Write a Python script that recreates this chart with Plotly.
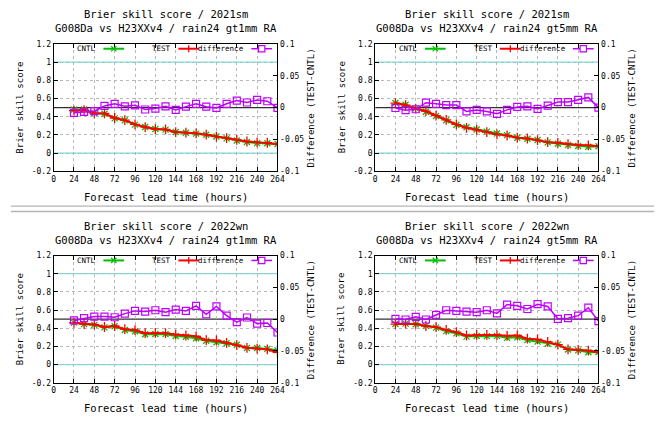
import plotly.graph_objects as go

W, H = 661, 424
FONT = "DejaVu Sans Mono"

# ---- data -------------------------------------------------------------
hours = list(range(24, 265, 12))

x_ticks = list(range(0, 265, 24))
x_tick_text = [str(v) for v in x_ticks]
bss_ticks = [-0.2, 0.0, 0.2, 0.4, 0.6, 0.8, 1.0, 1.2]
bss_tick_text = ["-0.2", "0", "0.2", "0.4", "0.6", "0.8", "1", "1.2"]
diff_ticks = [-0.1, -0.05, 0.0, 0.05, 0.1]
diff_tick_text = ["-0.1", "-0.05", "0", "0.05", "0.1"]

seasons = ["2021sm", "2021sm", "2022wn", "2022wn"]
thresholds = ["gt1mm", "gt5mm", "gt1mm", "gt5mm"]

# 2021 summer, > 1 mm
cntl_sm_1mm = [0.478, 0.480, 0.441, 0.433, 0.382, 0.361, 0.313, 0.287, 0.265, 0.258, 0.233,
               0.224, 0.214, 0.202, 0.182, 0.162, 0.138, 0.122, 0.110, 0.108, 0.100]
test_sm_1mm = [0.467, 0.471, 0.436, 0.436, 0.386, 0.363, 0.316, 0.285, 0.264, 0.260, 0.231,
               0.225, 0.218, 0.203, 0.182, 0.166, 0.146, 0.128, 0.118, 0.114, 0.100]
diff_sm_1mm = [-0.0082, -0.0066, -0.0056, 0.0026, 0.0060, 0.0020, 0.0036, -0.0030, -0.0015, 0.0020, -0.0036,
               0.0015, 0.0060, 0.0015, -0.0005, 0.0060, 0.0110, 0.0080, 0.0120, 0.0100, -0.0005]

# 2021 summer, > 5 mm
cntl_sm_5mm = [0.550, 0.532, 0.492, 0.454, 0.407, 0.362, 0.312, 0.284, 0.259, 0.236, 0.216,
               0.198, 0.169, 0.159, 0.144, 0.118, 0.104, 0.090, 0.078, 0.070, 0.075]
test_sm_5mm = [0.549, 0.528, 0.489, 0.462, 0.413, 0.366, 0.316, 0.278, 0.255, 0.230, 0.206,
               0.194, 0.170, 0.161, 0.142, 0.121, 0.113, 0.099, 0.090, 0.086, 0.075]
diff_sm_5mm = [-0.0006, -0.0040, -0.0026, 0.0077, 0.0060, 0.0040, 0.0040, -0.0060, -0.0036, -0.0060, -0.0097,
               -0.0036, 0.0010, 0.0020, -0.0020, 0.0030, 0.0087, 0.0087, 0.0120, 0.0160, 0.0000]

# 2022 winter, > 1 mm
cntl_wn_1mm = [0.462, 0.445, 0.437, 0.410, 0.422, 0.381, 0.367, 0.334, 0.336, 0.335, 0.315,
               0.307, 0.290, 0.262, 0.245, 0.235, 0.219, 0.182, 0.183, 0.173, 0.157]
test_wn_1mm = [0.460, 0.447, 0.441, 0.414, 0.425, 0.390, 0.380, 0.346, 0.350, 0.346, 0.330,
               0.320, 0.311, 0.270, 0.265, 0.240, 0.214, 0.185, 0.176, 0.167, 0.136]
diff_wn_1mm = [-0.0020, 0.0015, 0.0040, 0.0040, 0.0030, 0.0087, 0.0130, 0.0120, 0.0140, 0.0110, 0.0150,
               0.0130, 0.0210, 0.0077, 0.0200, 0.0056, -0.0046, 0.0026, -0.0070, -0.0060, -0.0210]

# 2022 winter, > 5 mm
cntl_wn_5mm = [0.446, 0.451, 0.444, 0.426, 0.407, 0.368, 0.344, 0.308, 0.315, 0.313, 0.316,
               0.294, 0.300, 0.269, 0.253, 0.230, 0.220, 0.167, 0.157, 0.136, 0.137]
test_wn_5mm = [0.446, 0.450, 0.448, 0.425, 0.413, 0.382, 0.357, 0.320, 0.326, 0.327, 0.325,
               0.317, 0.321, 0.285, 0.277, 0.250, 0.220, 0.168, 0.163, 0.154, 0.134]
diff_wn_5mm = [0.0005, -0.0005, 0.0036, -0.0005, 0.0066, 0.0140, 0.0130, 0.0120, 0.0110, 0.0140, 0.0090,
               0.0230, 0.0210, 0.0160, 0.0235, 0.0200, 0.0005, 0.0015, 0.0056, 0.0180, -0.0030]

series = [
    (cntl_sm_1mm, test_sm_1mm, diff_sm_1mm),
    (cntl_sm_5mm, test_sm_5mm, diff_sm_5mm),
    (cntl_wn_1mm, test_wn_1mm, diff_wn_1mm),
    (cntl_wn_5mm, test_wn_5mm, diff_wn_5mm),
]

# ---- styling -----------------------------------------------------------
C_CNTL = "#00c000"
C_TEST = "#ff0000"
C_DIFF = "#c000ff"
C_REF = "#66e6e6"
C_GRID = "#b8b8b8"

# plot-area boxes in pixels: left, right, top, bottom
boxes = [
    (52.3, 279.3, 40.7, 171.0),
    (378.3, 604.7, 40.7, 171.0),
    (52.3, 279.3, 257.0, 387.0),
    (378.3, 604.7, 257.0, 387.0),
]


def px(x):
    return x / W


def py(y):
    return 1 - y / H


fig = go.Figure()
layout = {}
shapes = []
annotations = []


def text(x, y, s, size, anchor="center", angle=0):
    annotations.append(dict(
        x=px(x), y=py(y), xref="paper", yref="paper", text=s, showarrow=False,
        xanchor=anchor, yanchor="middle", textangle=angle, borderpad=0,
        font=dict(family=FONT, size=size, color="black"),
    ))


def seg(x0, y0, x1, y1, color, width):
    shapes.append(dict(type="line", xref="paper", yref="paper",
                       x0=px(x0), y0=py(y0), x1=px(x1), y1=py(y1),
                       line=dict(color=color, width=width)))


for i, (cntl, test, diff) in enumerate(series):
    n = i + 1
    left, right, top, bottom = boxes[i]
    xa = "x" if n == 1 else f"x{n}"
    yl = "y" if n == 1 else f"y{2 * n - 1}"
    yr = f"y{2 * n}"
    xkey = "xaxis" if n == 1 else f"xaxis{n}"
    ylkey = "yaxis" if n == 1 else f"yaxis{2 * n - 1}"
    yrkey = f"yaxis{2 * n}"

    common = dict(showline=True, linecolor="black", linewidth=1, ticks="inside",
                  ticklen=4, tickcolor="black", tickwidth=1, zeroline=False,
                  tickfont=dict(family=FONT, size=8, color="black"))

    layout[xkey] = dict(domain=[px(left), px(right)], anchor=yl, range=[0, 264],
                        tickvals=x_ticks, ticktext=x_tick_text, mirror="ticks",
                        showgrid=True, gridcolor=C_GRID, griddash="dot", gridwidth=1,
                        **common)
    layout[ylkey] = dict(domain=[py(bottom), py(top)], anchor=xa, range=[-0.2, 1.2],
                         tickvals=bss_ticks, ticktext=bss_tick_text,
                         showgrid=True, gridcolor=C_GRID, griddash="dot", gridwidth=1,
                         **common)
    layout[yrkey] = dict(domain=[py(bottom), py(top)], anchor=xa, overlaying=yl,
                         side="right", range=[-0.1, 0.1], tickvals=diff_ticks,
                         ticktext=diff_tick_text, showgrid=False, **common)

    # reference lines: BSS = 0 and 1, difference = 0
    for v in (1.0, 0.0):
        shapes.append(dict(type="line", xref=xa, yref=yl, x0=0, x1=264, y0=v, y1=v,
                           layer="below", line=dict(color=C_REF, width=1.2)))
    shapes.append(dict(type="line", xref=xa, yref=yr, x0=0, x1=264, y0=0, y1=0,
                       layer="below", line=dict(color="#303030", width=1.2)))

    fig.add_trace(go.Scatter(
        x=hours, y=cntl, mode="lines+markers", xaxis=xa, yaxis=yl, name="CNTL",
        line=dict(color=C_CNTL, width=2),
        marker=dict(symbol="x-thin-open", size=6, color=C_CNTL,
                    line=dict(color=C_CNTL, width=1.3)),
        showlegend=False))
    fig.add_trace(go.Scatter(
        x=hours, y=test, mode="lines+markers", xaxis=xa, yaxis=yl, name="TEST",
        line=dict(color=C_TEST, width=2),
        marker=dict(symbol="cross-thin-open", size=7, color=C_TEST,
                    line=dict(color=C_TEST, width=1.3)),
        showlegend=False))
    fig.add_trace(go.Scatter(
        x=hours, y=diff, mode="lines+markers", xaxis=xa, yaxis=yr, name="difference",
        line=dict(color=C_DIFF, width=1.5),
        marker=dict(symbol="square-open", size=7, color=C_DIFF,
                    line=dict(color=C_DIFF, width=1.2)),
        showlegend=False))

    cx = (left + right) / 2
    cy = (top + bottom) / 2
    text(cx, top - 30.0, f"Brier skill score / {seasons[i]}", 10.5)
    text(cx, top - 15.7, f"G008Da vs H23XXv4 / rain24 {thresholds[i]} RA", 10.5)
    text(cx, bottom + 26.0, "Forecast lead time (hours)", 10.5)
    text(left - 34.0, cy, "Brier skill score", 9, angle=-90)
    text(right + 34.0, cy + 1, "Difference (TEST-CNTL)", 9, angle=-90)

    # key, drawn inside the top of the frame
    ky = top + 5.0
    keys = [("CNTL", C_CNTL, 44.5, "x"), ("TEST", C_TEST, 120.5, "+"),
            ("difference", C_DIFF, 194.5, "s")]
    for label, col, tx, mk in keys:
        text(left + tx, ky, label, 7.5, anchor="right")
        s0, s1 = left + tx + 6, left + tx + 27
        seg(s0, ky, s1, ky, col, 2 if mk != "s" else 1.5)
        mx = (s0 + s1) / 2
        if mk == "x":
            seg(mx - 2.7, ky - 2.7, mx + 2.7, ky + 2.7, col, 1.3)
            seg(mx - 2.7, ky + 2.7, mx + 2.7, ky - 2.7, col, 1.3)
        elif mk == "+":
            seg(mx, ky - 3.5, mx, ky + 3.5, col, 1.3)
        else:
            shapes.append(dict(type="rect", xref="paper", yref="paper",
                               x0=px(mx - 3.2), x1=px(mx + 3.2),
                               y0=py(ky + 3.2), y1=py(ky - 3.2),
                               line=dict(color=col, width=1.2), fillcolor="white"))

# separator between the two rows
seg(9, 206.5, W, 206.5, "#b4b4b4", 1.3)
seg(9, 212.0, W, 212.0, "#b4b4b4", 1.3)

fig.update_layout(
    width=W, height=H, margin=dict(l=0, r=0, t=0, b=0),
    paper_bgcolor="white", plot_bgcolor="white",
    showlegend=False, shapes=shapes, annotations=annotations,
    **layout,
)

fig.write_html("out.html")
